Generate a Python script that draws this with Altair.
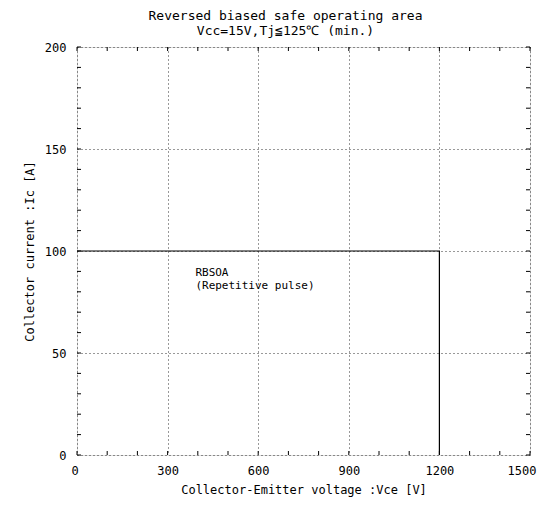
import altair as alt
import pandas as pd

# Data
vce = [0, 1200, 1200]
ic = [100, 100, 0]
x_ticks = [0, 300, 600, 900, 1200, 1500]
y_ticks = [0, 50, 100, 150, 200]
minor_x = list(range(0, 1501, 100))
minor_y = list(range(0, 201, 10))
note_x = [392]
note_y = [92]
note_text = ["RBSOA\n(Repetitive pulse)"]

W, H = 453, 408
FONT = "DejaVu Sans Mono"

line_df = pd.DataFrame({"vce": vce, "ic": ic, "order": [0, 1, 2]})
mx_df = pd.DataFrame({"v": minor_x})
my_df = pd.DataFrame({"v": minor_y})
note_df = pd.DataFrame({"x": note_x, "y": note_y, "t": note_text})

xs = alt.Scale(domain=[0, 1500], nice=False, zero=False)
ys = alt.Scale(domain=[0, 200], nice=False, zero=False)

xaxis = alt.Axis(values=x_ticks, format="d", grid=True, gridDash=[1, 3], gridColor="#333",
                 gridWidth=1, ticks=False, domain=False, labelPadding=10,
                 labelFont=FONT, labelFontSize=12, labelColor="black",
                 title="Collector-Emitter voltage :Vce [V]", titleFont=FONT,
                 titleFontSize=12, titleFontWeight="normal", titleColor="black",
                 titlePadding=8, labelFlush=True, labelFlushOffset=6)
yaxis = alt.Axis(values=y_ticks, format="d", grid=True, gridDash=[1, 3], gridColor="#333",
                 gridWidth=1, ticks=False, domain=False, labelPadding=11,
                 labelFont=FONT, labelFontSize=12, labelColor="black",
                 title="Collector current :Ic [A]", titleFont=FONT,
                 titleFontSize=12, titleFontWeight="normal", titleColor="black",
                 titlePadding=8, labelFlush=False)

line = alt.Chart(line_df).mark_line(color="black", strokeWidth=1.2).encode(
    x=alt.X("vce:Q", scale=xs, axis=xaxis),
    y=alt.Y("ic:Q", scale=ys, axis=yaxis),
    order="order:Q",
)

tb = alt.Chart(mx_df).mark_rule(color="black", strokeWidth=1).encode(
    x=alt.X("v:Q", scale=xs), y=alt.value(H), y2=alt.value(H - 4))
tt = alt.Chart(mx_df).mark_rule(color="black", strokeWidth=1).encode(
    x=alt.X("v:Q", scale=xs), y=alt.value(0), y2=alt.value(4))
tl = alt.Chart(my_df).mark_rule(color="black", strokeWidth=1).encode(
    y=alt.Y("v:Q", scale=ys), x=alt.value(0), x2=alt.value(4))
tr = alt.Chart(my_df).mark_rule(color="black", strokeWidth=1).encode(
    y=alt.Y("v:Q", scale=ys), x=alt.value(W), x2=alt.value(W - 4))

note = alt.Chart(note_df).mark_text(
    align="left", baseline="top", font=FONT, fontSize=11, lineBreak="\n",
    color="black", lineHeight=13
).encode(x=alt.X("x:Q", scale=xs), y=alt.Y("y:Q", scale=ys), text="t:N")

chart = alt.layer(line, tb, tt, tl, tr, note).properties(
    width=W, height=H,
    title=alt.TitleParams(
        text=["Reversed biased safe operating area", "Vcc=15V,Tj\u2266125\u2103 (min.)"],
        font=FONT, fontSize=13, fontWeight="normal", color="black",
        anchor="middle", dx=-18, offset=3, lineHeight=15),
    autosize=alt.AutoSizeParams(type="none"),
    padding={"left": 69, "top": 39, "right": 8, "bottom": 53},
).configure_view(stroke="black", strokeWidth=1).configure(background="white")

chart.save("out.html", embed_options={"renderer": "svg", "actions": False})
